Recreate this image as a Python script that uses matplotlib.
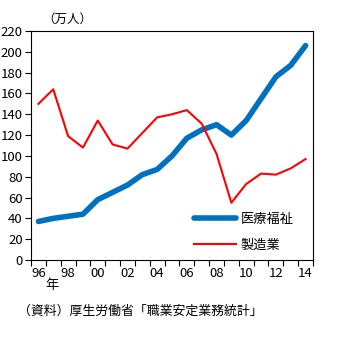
import matplotlib
matplotlib.use("Agg")
import matplotlib.pyplot as plt

plt.rcParams['font.family'] = ['Noto Sans CJK JP', 'DejaVu Sans']

years = list(range(1996, 2015))
medical = [37, 40, 42, 44, 58, 65, 72, 82, 87, 100, 117, 125, 130, 120, 134, 155, 176, 187, 206]
manufacturing = [150, 164, 119, 108, 134, 111, 107, 122, 137, 140, 144, 131, 102, 55, 73, 83, 82, 88, 97]
tick_labels = ['96', '98', '00', '02', '04', '06', '08', '10', '12', '14']

fig = plt.figure(figsize=(3.54, 3.54), dpi=100)
ax = fig.add_axes([31 / 354, 1 - 260 / 354, 282 / 354, 229 / 354])

x = list(range(len(years)))
ax.plot(x, medical, color='#0070c0', lw=4, solid_capstyle='round', label='医療福祉')
ax.plot(x, manufacturing, color='#ff0000', lw=1.5, label='製造業')

ax.set_xlim(-0.5, len(years) - 0.5)
ax.set_ylim(0, 220)
ax.set_yticks(range(0, 221, 20))
ax.set_xticks([i - 0.5 for i in range(len(years) + 1)], minor=False)
ax.set_xticklabels([])
ax.set_xticks(x[::2], minor=True)
ax.set_xticklabels(tick_labels, minor=True)
ax.tick_params(axis='x', which='major', direction='out', length=4, width=0.8)
ax.tick_params(axis='x', which='minor', length=0, labelsize=9.5, pad=5)
ax.tick_params(axis='y', direction='out', length=4, width=0.8, labelsize=9.5, pad=2)
for s in ax.spines.values():
    s.set_linewidth(0.8)

ax.legend(loc='lower right', bbox_to_anchor=(0.973, -0.015), frameon=False,
          fontsize=9.5, handlelength=3.2, labelspacing=0.95, handletextpad=0.35)

fig.text(42 / 354, 1 - 19 / 354, '（万人）', fontsize=9, va='center', ha='left')
fig.text(52 / 354, 1 - 285 / 354, '年', fontsize=9.5, va='center', ha='center')
fig.text(18 / 354, 1 - 311 / 354, '（資料）厚生労働省「職業安定業務統計」', fontsize=9.3, va='center', ha='left')

fig.savefig('out.png', dpi=100)
